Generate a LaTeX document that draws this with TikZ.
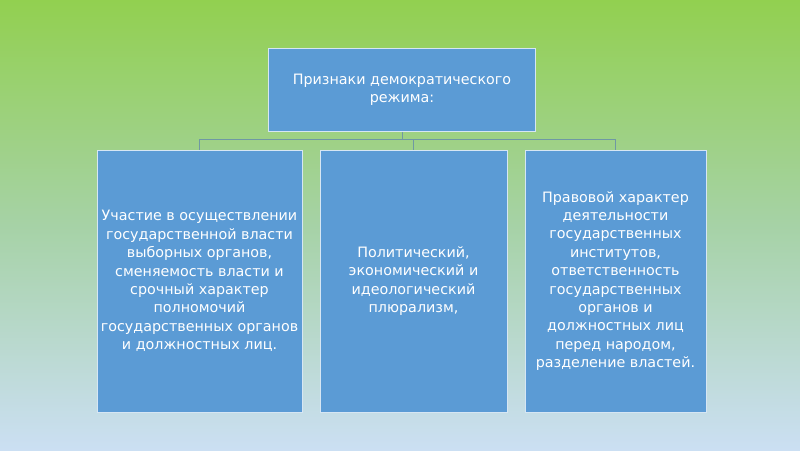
\documentclass[tikz,border=0pt]{standalone}
\usepackage{fontspec}
\setmainfont{DejaVu Sans}
\definecolor{boxblue}{HTML}{5B9BD5}
\definecolor{bgtop}{HTML}{92D050}
\definecolor{bgmid}{HTML}{A6D2A6}
\definecolor{bgbot}{HTML}{CBDFF3}
\definecolor{linec}{HTML}{6F98A3}
\begin{document}
\begin{tikzpicture}[x=1pt,y=-1pt,
  blk/.style={draw=white!75!boxblue, line width=1pt, fill=boxblue, text=white,
    align=center, font=\fontsize{14.3}{18.4}\selectfont, inner sep=0pt},
  conn/.style={draw=linec, line width=1pt}]
\path[use as bounding box, top color=bgtop, bottom color=bgbot, middle color=bgmid, shading angle=0] (0,0) rectangle (800,450);
\node[blk, minimum width=267, minimum height=83] (top) at (402,90) {Признаки демократического\\режима:};
\node[blk, minimum width=205, minimum height=262] (a) at (199.5,281) {Участие в осуществлении\\государственной власти\\выборных органов,\\сменяемость власти и\\срочный характер\\полномочий\\государственных органов\\и должностных лиц.};
\node[blk, minimum width=187, minimum height=262] (b) at (413.5,281) {Политический,\\экономический и\\идеологический\\плюрализм,};
\node[blk, minimum width=181, minimum height=262] (c) at (615.5,281) {Правовой характер\\деятельности\\государственных\\институтов,\\ответственность\\государственных\\органов и\\должностных лиц\\перед народом,\\разделение властей.};
\coordinate (j) at (402,139);
\draw[conn] (top.south) -- (j);
\draw[conn] (a.north) -- (a.north |- j) -- (c.north |- j) -- (c.north);
\draw[conn] (b.north |- j) -- (b.north);
\end{tikzpicture}
\end{document}
